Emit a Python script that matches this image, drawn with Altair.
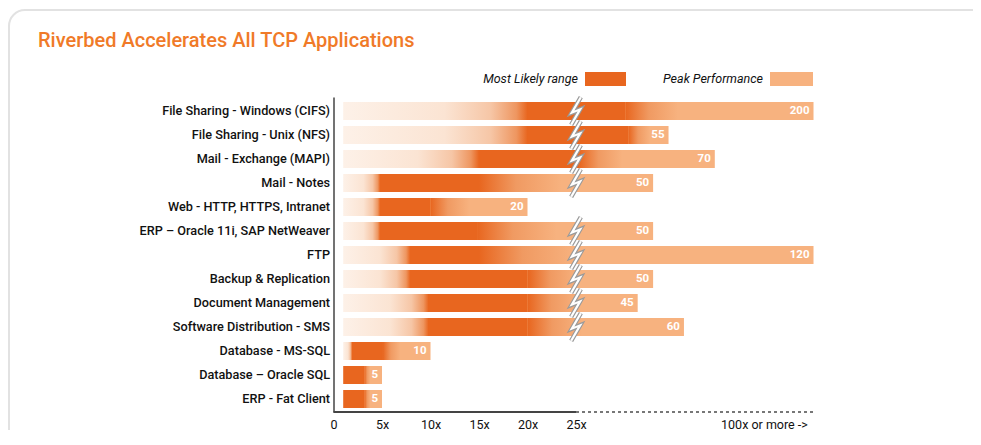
import altair as alt
import pandas as pd

apps = [
    "File Sharing - Windows (CIFS)",
    "File Sharing - Unix (NFS)",
    "Mail - Exchange (MAPI)",
    "Mail - Notes",
    "Web - HTTP, HTTPS, Intranet",
    "ERP – Oracle 11i, SAP NetWeaver",
    "FTP",
    "Backup & Replication",
    "Document Management",
    "Software Distribution - SMS",
    "Database - MS-SQL",
    "Database – Oracle SQL",
    "ERP - Fat Client",
]
start = [1, 1, 1, 1, 1, 1, 1, 1, 1, 1, 1, 1, 1]
fade_end = [20, 20, 15, 4.8, 4.8, 4.8, 7.9, 7.9, 9.8, 9.8, 1.9, 1, 1]
dark_end = [41, 42, 26, 15, 10, 14.8, 15, 20, 20, 20, 5.1, 3.2, 3.2]
fadeout_end = [58, 49, 40, 23.5, 14, 23, 25, 26, 26.5, 27, 6.9, 3.8, 3.8]
peak = [200, 55, 70, 50, 20, 50, 120, 50, 45, 60, 10, 5, 5]

tick_values = [0, 5, 10, 15, 20, 25, 100]

DARK = "#E8661F"
LIGHT = "#F7B27F"

df = pd.DataFrame({
    "app": apps, "start": start, "fade_end": fade_end, "dark_end": dark_end,
    "fadeout_end": fadeout_end, "peak": peak,
})
df["label"] = df["peak"].astype(str)

xscale = alt.Scale(domain=[0, 25, 102], range=[0, 242.5, 480], clamp=True, nice=False, zero=False)
yenc = alt.Y("app:N", sort=apps, title=None,
             scale=alt.Scale(paddingInner=0.26, paddingOuter=0.13, round=True),
             axis=alt.Axis(domain=True, domainColor="#444", domainWidth=1.5, ticks=False,
                           labelPadding=4, labelFontSize=12.7, labelFont="Roboto",
                           labelColor="#111", labelFontWeight=500, labelLimit=300,
                           zindex=1))

base = alt.Chart(df).transform_calculate(
    dark_start="max(datum.start, datum.fade_end - 0.08)",
    light_start="datum.dark_end - 0.3",
)

light = base.mark_bar(color=LIGHT).encode(
    x=alt.X("light_start:Q", scale=xscale, title=None,
            axis=alt.Axis(values=tick_values, domain=False, ticks=False, grid=False,
                          labelPadding=6, labelFontSize=12.5, labelFont="Roboto",
                          labelColor="#111", zindex=1,
                          labelExpr="datum.value == 0 ? '0' : (datum.value == 100 ? '100x or more ->' : datum.value + 'x')",
                          labelAlign=alt.expr("datum.value == 100 ? 'right' : 'center'"))),
    x2="peak:Q",
    y=yenc,
)
dark = base.mark_bar(color=DARK).encode(x=alt.X("dark_start:Q", scale=xscale), x2="dark_end:Q", y=yenc)

fade_in_grad = {
    "gradient": "linear", "x1": 0, "x2": 1, "y1": 0, "y2": 0,
    "stops": [
        {"offset": 0, "color": "#FDF1E8"},
        {"offset": 0.55, "color": "#FBE4D3"},
        {"offset": 0.8, "color": "#F6C6A6"},
        {"offset": 0.94, "color": "#EE9660"},
        {"offset": 1, "color": DARK},
    ],
}
fade_out_grad = {
    "gradient": "linear", "x1": 0, "x2": 1, "y1": 0, "y2": 0,
    "stops": [
        {"offset": 0, "color": DARK},
        {"offset": 0.45, "color": "#F09A62"},
        {"offset": 1, "color": LIGHT},
    ],
}
fade_in = base.mark_bar(color=fade_in_grad).encode(x=alt.X("start:Q", scale=xscale), x2="fade_end:Q", y=yenc)
fade_out = base.mark_bar(color=fade_out_grad).encode(x=alt.X("dark_end:Q", scale=xscale), x2="fadeout_end:Q", y=yenc)

labels = base.mark_text(align="right", baseline="middle", dx=-4, color="white",
                        fontWeight="bold", fontSize=11.5, font="Roboto").encode(
    x=alt.X("peak:Q", scale=xscale), y=yenc, text="label:N")

bolt_path = "M 0.35 -1 L -0.3 0.12 L 0.3 -0.12 L -0.35 1"
bolts = base.transform_filter("datum.peak > 25")
bolt_outline = bolts.mark_point(shape=bolt_path, filled=False, stroke="#9A9A9A",
                                strokeWidth=4.5, size=760, opacity=1).encode(
    x=alt.datum(25, scale=xscale), y=yenc)
bolt_white = bolts.mark_point(shape=bolt_path, filled=False, stroke="white",
                              strokeWidth=2.2, size=760, opacity=1).encode(
    x=alt.datum(25, scale=xscale), y=yenc)

axis_df = pd.DataFrame({"a": [0], "b": [25], "c": [102]})
solid_rule = alt.Chart(axis_df).mark_rule(color="#444", strokeWidth=2).encode(
    x=alt.X("a:Q", scale=xscale), x2="b:Q", y=alt.value(315))
dotted_rule = alt.Chart(axis_df).mark_rule(color="#777", strokeWidth=2, strokeDash=[3, 3]).encode(
    x=alt.X("b:Q", scale=xscale), x2="c:Q", y=alt.value(315))

one = pd.DataFrame({"a": [0]})
box = alt.Chart(one).mark_rect(fillOpacity=0, stroke="#E2E2E2", strokeWidth=2, cornerRadius=16).encode(
    x=alt.value(-324.5), x2=alt.value(660), y=alt.value(-87), y2=alt.value(420))

title = alt.Chart(one).mark_text(text="Riverbed Accelerates All TCP Applications", align="left",
                                 baseline="alphabetic", fontSize=20, font="Roboto",
                                 fontWeight=500, color="#F07A28").encode(
    x=alt.value(-295.5), y=alt.value(-50))

leg_t1 = alt.Chart(one).mark_text(text="Most Likely range", align="right", baseline="middle",
                                  fontSize=12.5, font="Roboto", fontStyle="italic",
                                  color="#111").encode(x=alt.value(244.5), y=alt.value(-18))
leg_r1 = alt.Chart(one).mark_rect(color=DARK).encode(
    x=alt.value(251.5), x2=alt.value(292.5), y=alt.value(-25), y2=alt.value(-11))
leg_t2 = alt.Chart(one).mark_text(text="Peak Performance", align="right", baseline="middle",
                                  fontSize=12.5, font="Roboto", fontStyle="italic",
                                  color="#111").encode(x=alt.value(429.5), y=alt.value(-18))
leg_r2 = alt.Chart(one).mark_rect(color=LIGHT).encode(
    x=alt.value(436.5), x2=alt.value(479.5), y=alt.value(-25), y2=alt.value(-11))

chart = alt.layer(
    box, light, dark, fade_in, fade_out, labels, bolt_outline, bolt_white,
    solid_rule, dotted_rule, title, leg_t1, leg_r1, leg_t2, leg_r2,
).properties(
    width=480, height=315,
    padding={"left": 325.5, "top": 89, "right": 159.5, "bottom": 18},
    autosize="none",
).configure_view(stroke=None)

chart.save("out.html", embed_options={"renderer": "svg", "actions": False})
